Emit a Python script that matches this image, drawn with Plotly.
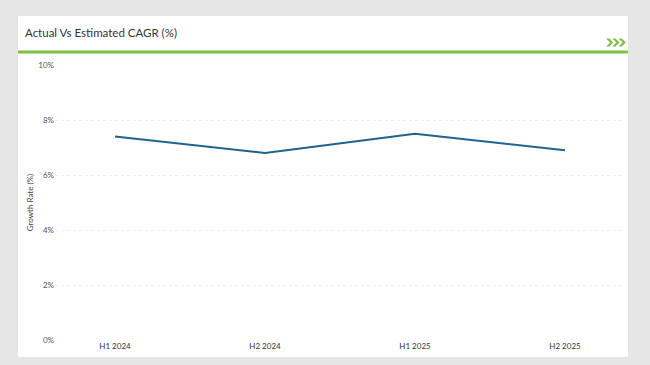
import plotly.graph_objects as go

categories = ["H1 2024", "H2 2024", "H1 2025", "H2 2025"]
growth_rate = [7.4, 6.8, 7.5, 6.9]
y_ticks = [0, 2, 4, 6, 8, 10]
y_tick_labels = ["0%", "2%", "4%", "6%", "8%", "10%"]

W, H = 650, 365
L, R, T, B = 55, 25, 65, 25
pw, ph = W - L - R, H - T - B

def px(x):
    return (x - L) / pw

def py(y):
    return (H - B - y) / ph

fig = go.Figure()
fig.add_trace(go.Scatter(
    x=categories, y=growth_rate, mode="lines",
    line=dict(color="#1f6393", width=2),
    hoverinfo="x+y", showlegend=False,
))

shapes = [
    dict(type="rect", xref="paper", yref="paper", layer="below",
         x0=px(18), x1=px(628), y0=py(357), y1=py(16),
         fillcolor="white", line=dict(width=0)),
    dict(type="line", xref="paper", yref="paper",
         x0=px(18), x1=px(628), y0=py(52), y1=py(52),
         line=dict(color="#7dc142", width=3)),
]

# decorative chevrons in header
for i in range(3):
    ox = 606 + i * 6.3
    pts = [(ox, 38.5), (ox + 3.2, 38.5), (ox + 7.2, 42.5), (ox + 3.2, 46.5),
           (ox, 46.5), (ox + 4, 42.5)]
    path = "M " + " L ".join(f"{px(a):.5f},{py(b):.5f}" for a, b in pts) + " Z"
    shapes.append(dict(type="path", xref="paper", yref="paper", path=path,
                       fillcolor="#7dc142", line=dict(width=0)))

annotations = [
    dict(text="Actual Vs Estimated CAGR (%)", xref="paper", yref="paper",
         x=px(23), y=py(33), xanchor="left", yanchor="middle", showarrow=False,
         font=dict(size=11.5, color="#333333", family="Lato, sans-serif")),
]

fig.update_layout(
    width=W, height=H,
    margin=dict(l=L, r=R, t=T, b=B, autoexpand=False),
    paper_bgcolor="#e6e6e6", plot_bgcolor="white",
    font=dict(family="Lato, Open Sans, sans-serif", color="#444444"),
    shapes=shapes, annotations=annotations,
    xaxis=dict(type="category", range=[-0.4, 3.4], showgrid=False, zeroline=False,
               showline=False, ticks="", tickfont=dict(size=8, color="#333333")),
    yaxis=dict(range=[0, 10], tickmode="array", tickvals=y_ticks, ticktext=y_tick_labels,
               showgrid=True, gridcolor="#efefef", griddash="dot", gridwidth=1,
               zeroline=False, showline=False, ticks="",
               tickfont=dict(size=8, color="#555555"),
               title=dict(text="Growth Rate (%)", font=dict(size=8, color="#444444"),
                          standoff=3)),
)

fig.write_html(
    "out.html",
    config={"displayModeBar": False},
    post_script="document.body.style.margin='0';document.body.style.padding='0';",
)
